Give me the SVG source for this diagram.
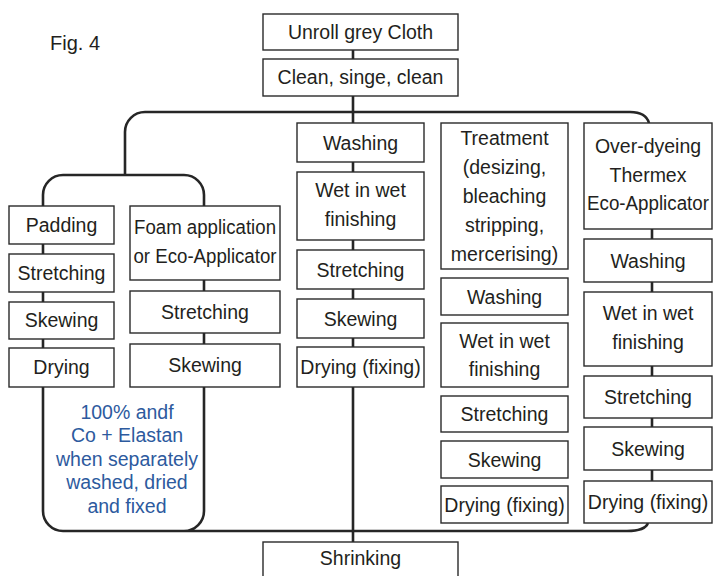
<svg xmlns="http://www.w3.org/2000/svg" width="715" height="576" viewBox="0 0 715 576">
<style>
.b{fill:#fff;stroke:#2a2a2a;stroke-width:1.4}
.t{font-family:"Liberation Sans",Arial,sans-serif;font-size:19.5px;fill:#231f20;text-anchor:middle}
.blue{font-family:"Liberation Sans",Arial,sans-serif;font-size:19.5px;fill:#2d5a9e;text-anchor:middle}
.c{fill:none;stroke:#262626;stroke-width:2.6}
</style>
<rect width="715" height="576" fill="#fff"/>
<text x="50" y="50" style="font-family:'Liberation Sans',Arial,sans-serif;font-size:20px;fill:#231f20">Fig. 4</text>
<g id="connectors">
<path class="c" d="M353 50V59M353 96V123M353 162V172M353 240V250M353 289V299M353 338V347M353 387V542"/>
<path class="c" d="M125 175V132A20 20 0 0 1 145 112H630Q646 112 649 123"/>
<path class="c" d="M43 206V195A20 20 0 0 1 63 175H184A20 20 0 0 1 204 195V206"/>
<path class="c" d="M43 244V254M43 292V302M43 339V348M204 280V291M204 333V344"/>
<path class="c" d="M43 387V511A20 20 0 0 0 63 531H627Q645 531 648 523M204 387V511A20 20 0 0 1 184 531"/>
<path class="c" d="M652 229V239M652 282V292M652 366V376M652 418V427M652 470V481"/>
</g>
<g id="unroll"><rect class="b" x="263" y="14" width="195" height="36"/><text class="t" x="360.5" y="39">Unroll grey Cloth</text></g>
<g id="clean"><rect class="b" x="263" y="59" width="195" height="37"/><text class="t" x="360.5" y="84">Clean, singe, clean</text></g>
<g id="padding"><rect class="b" x="9" y="206" width="105" height="38"/><text class="t" x="61.5" y="232">Padding</text></g>
<g id="stretch1"><rect class="b" x="9" y="254" width="105" height="38"/><text class="t" x="61.5" y="280">Stretching</text></g>
<g id="skew1"><rect class="b" x="9" y="302" width="105" height="37"/><text class="t" x="61.5" y="327">Skewing</text></g>
<g id="dry1"><rect class="b" x="9" y="348" width="105" height="39"/><text class="t" x="61.5" y="374">Drying</text></g>
<g id="foam"><rect class="b" x="130" y="206" width="150" height="74"/><text class="t" x="205" y="234" textLength="142" lengthAdjust="spacingAndGlyphs">Foam application</text><text class="t" x="205" y="263" textLength="143" lengthAdjust="spacingAndGlyphs">or Eco-Applicator</text></g>
<g id="stretch2"><rect class="b" x="130" y="291" width="150" height="42"/><text class="t" x="205" y="319">Stretching</text></g>
<g id="skew2"><rect class="b" x="130" y="344" width="150" height="43"/><text class="t" x="205" y="372">Skewing</text></g>
<g id="note"><text class="blue" x="127" y="419">100% andf</text><text class="blue" x="127" y="442">Co + Elastan</text><text class="blue" x="127" y="466">when separately</text><text class="blue" x="127" y="489">washed, dried</text><text class="blue" x="127" y="513">and fixed</text></g>
<g id="wash3"><rect class="b" x="297" y="123" width="127" height="39"/><text class="t" x="360.5" y="149.5">Washing</text></g>
<g id="wet3"><rect class="b" x="297" y="172" width="127" height="68"/><text class="t" x="360.5" y="197">Wet in wet</text><text class="t" x="360.5" y="226">finishing</text></g>
<g id="stretch3"><rect class="b" x="297" y="250" width="127" height="39"/><text class="t" x="360.5" y="276.5">Stretching</text></g>
<g id="skew3"><rect class="b" x="297" y="299" width="127" height="39"/><text class="t" x="360.5" y="325.5">Skewing</text></g>
<g id="dry3"><rect class="b" x="297" y="347" width="127" height="40"/><text class="t" x="360.5" y="374">Drying (fixing)</text></g>
<g id="treat"><rect class="b" x="441" y="123" width="127" height="146"/><text class="t" x="504.5" y="145">Treatment</text><text class="t" x="504.5" y="174">(desizing,</text><text class="t" x="504.5" y="203">bleaching</text><text class="t" x="504.5" y="232">stripping,</text><text class="t" x="504.5" y="261">mercerising)</text></g>
<g id="wash4"><rect class="b" x="441" y="278" width="127" height="37"/><text class="t" x="504.5" y="303.5">Washing</text></g>
<g id="wet4"><rect class="b" x="441" y="323" width="127" height="64"/><text class="t" x="504.5" y="347.5">Wet in wet</text><text class="t" x="504.5" y="376">finishing</text></g>
<g id="stretch4"><rect class="b" x="441" y="396" width="127" height="36"/><text class="t" x="504.5" y="421">Stretching</text></g>
<g id="skew4"><rect class="b" x="441" y="441" width="127" height="37"/><text class="t" x="504.5" y="466.5">Skewing</text></g>
<g id="dry4"><rect class="b" x="441" y="486" width="127" height="37"/><text class="t" x="504.5" y="511.5">Drying (fixing)</text></g>
<g id="overdye"><rect class="b" x="584" y="123" width="128" height="106"/><text class="t" x="648" y="153">Over-dyeing</text><text class="t" x="648" y="182">Thermex</text><text class="t" x="648" y="210" textLength="122" lengthAdjust="spacingAndGlyphs">Eco-Applicator</text></g>
<g id="wash5"><rect class="b" x="584" y="239" width="128" height="43"/><text class="t" x="648" y="267.5">Washing</text></g>
<g id="wet5"><rect class="b" x="584" y="292" width="128" height="74"/><text class="t" x="648" y="320">Wet in wet</text><text class="t" x="648" y="349">finishing</text></g>
<g id="stretch5"><rect class="b" x="584" y="376" width="128" height="42"/><text class="t" x="648" y="404">Stretching</text></g>
<g id="skew5"><rect class="b" x="584" y="427" width="128" height="43"/><text class="t" x="648" y="455.5">Skewing</text></g>
<g id="dry5"><rect class="b" x="584" y="481" width="128" height="42"/><text class="t" x="648" y="509">Drying (fixing)</text></g>
<g id="shrink"><rect class="b" x="263" y="542" width="195" height="44"/><text class="t" x="360.5" y="565">Shrinking</text></g>
</svg>
